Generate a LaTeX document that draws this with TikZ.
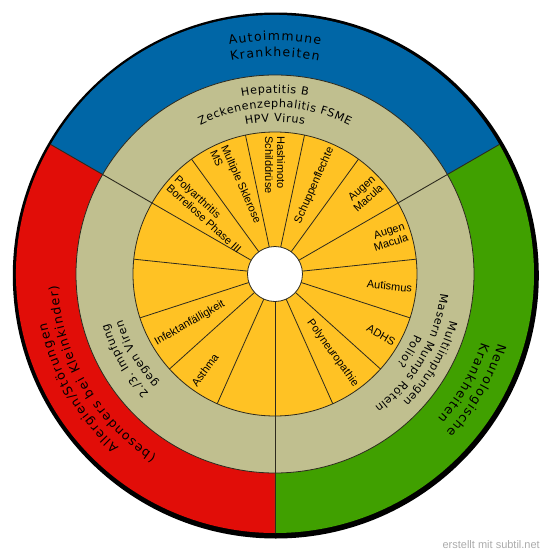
\documentclass[tikz,border=0pt]{standalone}
\usepackage{fontspec}
\setmainfont{Liberation Sans}
\newfontfamily\ringfam{DejaVu Sans}
\definecolor{cBlue}{RGB}{0,102,166}
\definecolor{cRed}{RGB}{225,13,8}
\definecolor{cGreen}{RGB}{64,160,0}
\definecolor{cBeige}{RGB}{192,191,143}
\definecolor{cYel}{RGB}{255,194,36}
\definecolor{lineC}{RGB}{45,42,30}
\tikzset{
  lab/.style={font=\fontsize{11pt}{12pt}\selectfont, inner sep=0pt},
  inlab/.style={lab, anchor=west, align=left},
  outlab/.style={lab, anchor=east, align=right},
  spoke/.style={draw=lineC, line width=0.8pt},
  divline/.style={draw=lineC, line width=0.9pt},
  ringline/.style={draw=lineC, line width=0.8pt},
  arcchar/.style={inner sep=0pt, anchor=base},
}
\newcommand\fO{\ringfam\fontsize{12.5pt}{14pt}\selectfont}
\newcommand\fI{\ringfam\fontsize{11.2pt}{13pt}\selectfont}
\newdimen\arcTot
\newdimen\arcCur
% #1 macro to define, #2 radius (pt number), #3 centre angle, #4 letter spacing (pt number), #5 font, #6 comma list of characters
\newcommand\arcprep[6]{%
  \global\arcTot=0pt
  \foreach \c in {#6}{\setbox0=\hbox{#5\c}\global\advance\arcTot by \wd0\relax\global\advance\arcTot by #4pt\relax}%
  \global\advance\arcTot by -#4pt\relax
  \global\arcCur=-0.5\arcTot
  \gdef#1{}%
  \foreach \c in {#6}{%
    \setbox0=\hbox{#5\c}%
    \pgfmathsetmacro\arcAng{#3-(\the\arcCur+0.5*\the\wd0)/#2*57.29578}%
    \pgfmathsetmacro\arcRot{\arcAng-90}%
    \xdef#1{\unexpanded\expandafter{#1}\noexpand\node[arcchar,rotate=\arcRot] at (\arcAng:#2pt) {\noexpand#5\unexpanded\expandafter{\c}};}%
    \global\advance\arcCur by \wd0\relax
    \global\advance\arcCur by #4pt\relax
  }%
}
\begin{document}
\arcprep\rtA{233.5}{90}{1.25}{\fO}{A,u,t,o,i,m,m,u,n,e}%
\arcprep\rtB{217.5}{90}{1.25}{\fO}{K,r,a,n,k,h,e,i,t,e,n}%
\arcprep\rtC{233.5}{210}{1.25}{\fO}{A,l,l,e,r,g,i,e,n,/,S,t,ö,r,u,n,g,e,n}%
\arcprep\rtD{217.5}{210}{1.25}{\fO}{{(},b,e,s,o,n,d,e,r,s,~,b,e,i,~,K,l,e,i,n,k,i,n,d,e,r,{)}}%
\arcprep\rtE{233.5}{-30}{1.25}{\fO}{N,e,u,r,o,l,o,g,i,s,c,h,e}%
\arcprep\rtF{217.5}{-30}{1.25}{\fO}{K,r,a,n,k,h,e,i,t,e,n}%
\arcprep\rtG{181}{90}{0.55}{\fI}{H,e,p,a,t,i,t,i,s,~,B}%
\arcprep\rtH{166.5}{90}{0.55}{\fI}{Z,e,c,k,e,n,e,n,z,e,p,h,a,l,i,t,i,s,~,F,S,M,E}%
\arcprep\rtI{152}{90}{0.55}{\fI}{H,P,V,~,V,i,r,u,s}%
\arcprep\rtJ{181}{-30}{0.55}{\fI}{M,u,l,t,i,i,m,p,f,u,n,g,e,n}%
\arcprep\rtK{166.5}{-30}{0.55}{\fI}{M,a,s,e,r,n,~,M,u,m,p,s,~,R,ö,t,e,l,n}%
\arcprep\rtL{152}{-30}{0.55}{\fI}{P,o,l,i,o,?}%
\arcprep\rtM{173.75}{210}{0.55}{\fI}{2,.,/,3,.,~,I,m,p,f,u,n,g}%
\arcprep\rtN{159.25}{210}{0.55}{\fI}{g,e,g,e,n,~,V,i,r,e,n}%
\begin{tikzpicture}
\useasboundingbox (-275pt,-284pt) rectangle (275pt,274pt);
% shadow / border
\fill[black] (0.8pt,-1.5pt) circle[radius=263pt];
% outer sectors
\fill[cBlue] (0,0) -- (30:259pt) arc[start angle=30,end angle=150,radius=259pt] -- cycle;
\fill[cRed] (0,0) -- (150:259pt) arc[start angle=150,end angle=270,radius=259pt] -- cycle;
\fill[cGreen] (0,0) -- (270:259pt) arc[start angle=270,end angle=390,radius=259pt] -- cycle;
% rings
\filldraw[fill=cBeige, ringline] (0,0) circle[radius=199pt];
\filldraw[fill=cYel, ringline] (0,0) circle[radius=142pt];
\foreach \a in {30,54,...,366} \draw[spoke] (\a:27.5pt) -- (\a:142pt);
\foreach \a in {30,150,270} \draw[divline] (\a:142pt) -- (\a:259pt);
\filldraw[fill=white, ringline] (0,0) circle[radius=27.5pt];
% sector labels
\node[inlab, rotate=318] (l1) at (138:138pt) {Polyarthritis\\Borreliose Phase III};
\node[inlab, rotate=294] (l2) at (114:138pt) {Multiple Sklerose\\MS};
\node[inlab, rotate=270] (l3) at (90:138pt) {Hashimoto\\Schilddrüse};
\node[outlab, rotate=66] (l4) at (66:138pt) {Schuppenflechte};
\node[outlab, rotate=42] (l5) at (42:138pt) {Augen\\Macula};
\node[outlab, rotate=18] (l6) at (18:138pt) {Augen\\Macula};
\node[outlab, rotate=-6] (l7) at (-6:138pt) {Autismus};
\node[outlab, rotate=-30] (l8) at (-30:138pt) {ADHS};
\node[outlab, rotate=-54] (l9) at (-54:138pt) {Polyneuropathie};
\node[inlab, rotate=54] (l10) at (234:138pt) {Asthma};
\node[inlab, rotate=30] (l11) at (210:138pt) {Infektanfälligkeit};
% ring texts (one node per character, placed along arcs)
\rtA \rtB \rtC \rtD \rtE \rtF
\rtG \rtH \rtI \rtJ \rtK \rtL \rtM \rtN
% watermark
\node[anchor=base east, font=\fontsize{11pt}{12pt}\selectfont, text=black!33, inner sep=0pt] (wm) at (265pt,-274pt) {erstellt mit subtil.net};
\end{tikzpicture}
\end{document}
